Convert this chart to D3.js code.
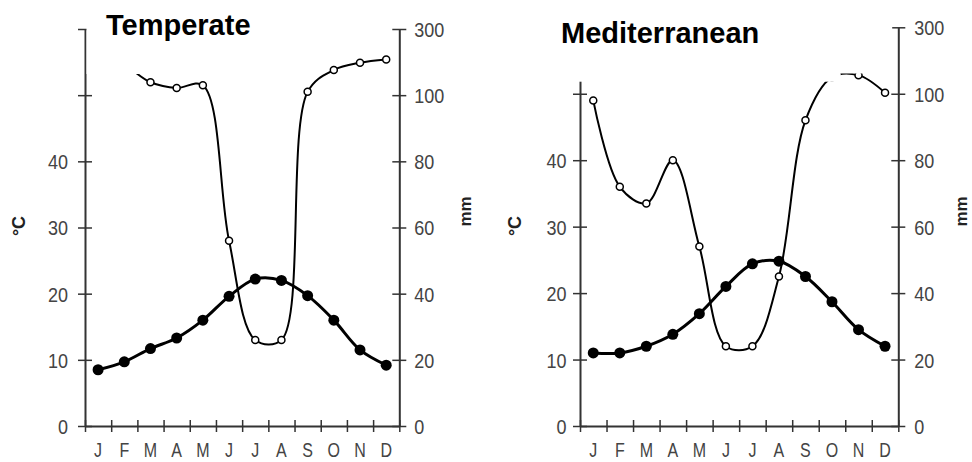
<!DOCTYPE html>
<html>
<head>
<meta charset="utf-8">
<script src="https://cdn.jsdelivr.net/npm/d3@7"></script>
<style>
    body { margin: 0; background: white; }
    svg { display: block; font-family: "Liberation Sans", Arial, sans-serif; }
</style>
</head>
<body>
<svg id="chart" width="972" height="462"></svg>
<script>
const months = ["J", "F", "M", "A", "M", "J", "J", "A", "S", "O", "N", "D"];

// deg C
var temperate_temp = [8.5, 9.7, 11.7, 13.3, 16, 19.6, 22.2, 22, 19.7, 16, 11.5, 9.2];
var mediterranean_temp = [11, 11, 12, 13.8, 16.9, 21, 24.4, 24.8, 22.5, 18.7, 14.5, 12];

// mm (scale above 100 is compressed)
var temperate_rain = [210, 190, 139, 122, 130, 56, 26, 26, 110, 176, 198, 208];
var mediterranean_rain = [98, 72, 67, 80, 54, 24, 24, 45, 92, 150, 156, 103];

var temp_ticks = [0, 10, 20, 30, 40, 50, 60];
var temp_tick_labels = ["0", "10", "20", "30", "40", "", ""];
var rain_ticks = [0, 20, 40, 60, 80, 100, 300];

var panels = [
    { "Title": "Temperate", "Temp": temperate_temp, "Rain": temperate_rain,
      left: 85, right: 399.3, top: 29, bottom: 426, titleX: 106, titleY: 35,
      leftPad: 10, rightPad: 8, degX: 20, mmX: 466.5,
      patches: [[86.5, 0, 56, 74]] },
    { "Title": "Mediterranean", "Temp": mediterranean_temp, "Rain": mediterranean_rain,
      left: 580, right: 898.3, top: 27.3, bottom: 426, titleX: 561, titleY: 42.5,
      leftPad: 6.5, rightPad: 9, degX: 516.5, mmX: 963,
      patches: [[555, 0, 285.7, 81.7], [840.7, 0, 51.5, 73.5]] }
];

const AXIS_COLOR = "#333";
const TEXT_COLOR = "#444";
const TICK = 7;

function style_axis(g) {
    g.select(".domain").attr("stroke", AXIS_COLOR).attr("stroke-width", 2);
    g.selectAll(".tick line").attr("stroke", AXIS_COLOR).attr("stroke-width", 1.5);
    g.selectAll(".tick text")
        .attr("fill", TEXT_COLOR)
        .style("font-size", "18px")
        .attr("dy", "0.36em")
        .attr("transform", "scale(1,1.15)");
}

function draw_panel(svg, p) {
    var x = d3.scaleBand().domain(d3.range(12)).range([p.left, p.right]);
    var x_ticks = d3.scaleLinear().domain([0, 12]).range([p.left, p.right]);
    var y_temp = d3.scaleLinear().domain([0, 60]).range([p.bottom, p.top]);
    var y_rain = d3.scaleLinear().domain([0, 100, 300]).range([p.bottom, y_temp(50), y_temp(60)]);
    var cx = i => x(i) + x.bandwidth() / 2;

    var g = svg.append("g");

    // left axis (deg C)
    g.append("g")
        .attr("transform", "translate(" + p.left + ",0)")
        .call(d3.axisLeft(y_temp)
            .tickValues(temp_ticks)
            .tickFormat((d, i) => temp_tick_labels[i])
            .tickSize(TICK).tickSizeOuter(0).tickPadding(p.leftPad))
        .call(style_axis)
        .selectAll(".tick line").attr("x1", TICK);

    // right axis (mm)
    g.append("g")
        .attr("transform", "translate(" + p.right + ",0)")
        .call(d3.axisRight(y_rain)
            .tickValues(rain_ticks)
            .tickFormat(d3.format("d"))
            .tickSize(TICK).tickSizeOuter(0).tickPadding(p.rightPad))
        .call(style_axis)
        .selectAll(".tick line").attr("x1", -TICK);

    // bottom axis, ticks between months
    g.append("g")
        .attr("transform", "translate(0," + p.bottom + ")")
        .call(d3.axisBottom(x_ticks)
            .tickValues(d3.range(13))
            .tickFormat("")
            .tickSize(6).tickSizeOuter(0))
        .call(style_axis)
        .selectAll(".tick line").attr("y1", -6);

    var month_axis = g.append("g")
        .attr("transform", "translate(0," + p.bottom + ")")
        .call(d3.axisBottom(x).tickFormat(i => months[i]).tickSize(0));
    month_axis.select(".domain").remove();
    month_axis.selectAll(".tick text")
        .attr("y", 0).attr("dy", 0)
        .attr("fill", TEXT_COLOR)
        .style("font-size", "16px")
        .attr("transform", "translate(0,31) scale(1,1.25)");

    // rainfall
    g.append("path")
        .datum(p["Rain"])
        .attr("fill", "none")
        .attr("stroke", "black")
        .attr("stroke-width", 2)
        .attr("d", d3.line().x((d, i) => cx(i)).y(d => y_rain(d)).curve(d3.curveCatmullRom));

    // temperature
    g.append("path")
        .datum(p["Temp"])
        .attr("fill", "none")
        .attr("stroke", "black")
        .attr("stroke-width", 3)
        .attr("d", d3.line().x((d, i) => cx(i)).y(d => y_temp(d)).curve(d3.curveCatmullRom));

    g.append("g").selectAll("circle")
        .data(p["Temp"])
        .join("circle")
        .attr("cx", (d, i) => cx(i))
        .attr("cy", d => y_temp(d))
        .attr("r", 5.5)
        .attr("fill", "black");

    g.append("g").selectAll("circle")
        .data(p["Rain"])
        .join("circle")
        .attr("cx", (d, i) => cx(i))
        .attr("cy", d => y_rain(d))
        .attr("r", 3.5)
        .attr("fill", "white")
        .attr("stroke", "black")
        .attr("stroke-width", 1.5);

    // white patches that hide the top of the plot in the original
    g.append("g").selectAll("rect")
        .data(p.patches)
        .join("rect")
        .attr("x", d => d[0]).attr("y", d => d[1])
        .attr("width", d => d[2]).attr("height", d => d[3])
        .attr("fill", "white");

    g.append("text")
        .attr("x", p.titleX)
        .attr("y", p.titleY)
        .style("font-size", "29px")
        .style("font-weight", "bold")
        .text(p["Title"]);

    g.append("text")
        .attr("transform", "translate(" + p.degX + ",226) rotate(-90)")
        .attr("text-anchor", "middle")
        .attr("dominant-baseline", "middle")
        .attr("fill", "#222")
        .style("font-size", "18px")
        .style("font-weight", "bold")
        .text("°C");

    g.append("text")
        .attr("transform", "translate(" + p.mmX + ",211.5) rotate(-90)")
        .attr("text-anchor", "middle")
        .attr("dominant-baseline", "middle")
        .attr("fill", "#222")
        .style("font-size", "17px")
        .style("font-weight", "bold")
        .text("mm");
}

var svg = d3.select("svg#chart");
svg.append("rect").attr("width", 972).attr("height", 462).attr("fill", "white");
panels.forEach(p => draw_panel(svg, p));
</script>
</body>
</html>
